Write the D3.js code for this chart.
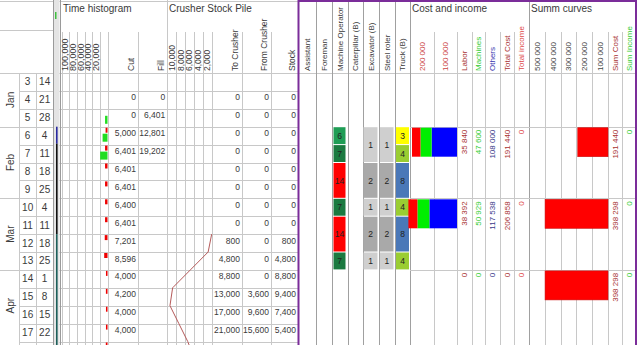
<!DOCTYPE html>
<html><head><meta charset="utf-8">
<script src="https://cdn.jsdelivr.net/npm/d3@7"></script>
<style>
html,body{margin:0;padding:0;background:#fff;}
svg{display:block;font-family:"Liberation Sans",Arial,sans-serif;}
</style></head><body>
<svg id="chart" width="640" height="345"></svg>
<script>
// ---- weekly rows ----
const weeks = [3,4,5,6,7,8,9,10,11,12,13,14,15,16,17,18];
const days  = [14,21,28,4,11,18,25,4,11,18,25,1,8,15,22,29];
const months = ["Jan","Feb","Mar","Apr"];
const monthFirstWeek = [3,6,10,14];
const monthLastWeek  = [5,9,13,17];

// ---- earth works (per week) ----
const cut         = [null,0,0,5000,6401,6401,6401,6400,6401,7201,8596,4000,4200,4000,4000,4410];
const fill        = [null,0,6401,12801,19202,null,null,null,null,null,null,null,null,null,null,null];
const toCrusher   = [null,0,0,0,0,0,0,0,0,800,4800,8800,13000,17000,21000,25410];
const fromCrusher = [null,0,0,0,0,0,0,0,0,0,0,0,3600,9600,15600,21600];
const stockPile   = [null,0,0,0,0,0,0,0,0,800,4800,8800,9400,7400,5400,3810];

const histTicks  = [100000,80000,60000,40000,20000];
const stockTicks = [10000,8000,6000,4000,2000];

// ---- resources (weeks 6..13) ----
const resourceNames = ["Assistant","Foreman","Machine Operator","Caterpillar (B)","Excavator (B)","Steel roler","Truck (B)"];
const resourceFirstWeek = 6;
const machineOperator = [6,7,14,14,7,14,14,7];
const excavator       = [1,1,2,2,1,2,2,1];
const steelRoler      = [1,1,2,2,1,2,2,1];
const truck           = [3,4,8,8,4,8,8,4];

// ---- cost and income (per month, Feb..Apr) ----
const costMonths  = ["Feb","Mar","Apr"];
const labor       = [35840,38392,0];
const machines    = [47600,50929,0];
const others      = [108000,117538,0];
const totalCost   = [191440,206858,0];
const totalIncome = [0,0,0];
const sumCost     = [191440,398298,398298];
const sumIncome   = [0,0,0];
const costTicks = [200000,100000];
const summTicks = [500000,400000,300000,200000,100000];

// ---- drawing ----
const svg = d3.select("#chart");
const GRID = "#c8c8c8", MID = "#a0a0a0", PURPLE = "#7b2d9a", TXT = "#3a3a3a";
const crisp = v => Math.round(v) + 0.5;
const H = 345;

const fmtComma = d3.format(",");
const spaceLocale = d3.formatLocale({decimal:".", thousands:" ", grouping:[3], currency:["",""]});
const fmtSpace = spaceLocale.format(",");

const y = d3.scaleLinear().domain([3, 19]).range([73, 73 + 16 * 17.9]);
const hx = d3.scaleLinear().domain([0, 120000]).range([107.5, 61.5]);
const px = d3.scaleLinear().domain([0, 10000]).range([211.7, 167.3]);
const cx = d3.scaleLinear().domain([0, 200000]).range([457, 410]);
const sx = d3.scaleLinear().domain([0, 500000]).range([608, 529]);

const gGrid = svg.append("g").attr("shape-rendering", "crispEdges");
function vline(x, y1, y2, color, w) {
  gGrid.append("line").attr("x1", crisp(x)).attr("x2", crisp(x)).attr("y1", y1).attr("y2", y2)
    .attr("stroke", color).attr("stroke-width", w || 1);
}
function hline(yy, x1, x2, color, w) {
  gGrid.append("line").attr("x1", x1).attr("x2", x2).attr("y1", crisp(yy)).attr("y2", crisp(yy))
    .attr("stroke", color).attr("stroke-width", w || 1);
}

// left table columns
const colMonth = [0, 19.3], colWeek = [19.3, 36], colDay = [36, 53.3];
const colCut = [hx(0), 138], colFill = [138, px(10000)];
const colTo = [px(0), 242], colFrom = [242, 271], colStock = [271, 298];

// horizontal grid: header top, header bottom, weekly rows
hline(1, 0, 298, GRID);
hline(29.5, 0, 53, GRID);
hline(73, 0, 636, GRID);
weeks.slice(1).concat([19]).forEach(w => hline(y(w), colWeek[0], 298, GRID));
monthFirstWeek.slice(1).forEach(w => hline(y(w), 0, colWeek[0], GRID));

// vertical grid in the left table
vline(colWeek[0], 73, H, GRID);
vline(colDay[0], 73, H, GRID);
vline(53.3, 0, H, "#9a9a9a");
d3.range(20000, 140000, 20000).forEach(v => vline(hx(v), 32, H, GRID));
vline(hx(0), 32, H, GRID);
vline(colCut[1], 32, H, GRID);
vline(px(10000), 0, H, GRID);
stockTicks.slice(1).forEach(v => vline(px(v), 32, H, GRID));
vline(px(0), 32, H, GRID);
vline(colFrom[0], 32, H, GRID);
vline(colStock[0], 32, H, GRID);

// frozen-pane separator band
svg.append("rect").attr("x", 54).attr("y", 0).attr("width", 5.5).attr("height", H).attr("fill", "#e4e4e4");
vline(59.5, 0, H, "#9a9a9a");
svg.append("rect").attr("x", 55).attr("y", 12).attr("width", 1.5).attr("height", 7).attr("fill", "#3fbf3f");
svg.append("rect").attr("x", 56).attr("y", y(6)).attr("width", 1.6).attr("height", 17).attr("fill", "#2a2aa0");
svg.append("rect").attr("x", 56).attr("y", y(6) + 17).attr("width", 1.6).attr("height", y(12) - y(6) - 17).attr("fill", "#111");
svg.append("rect").attr("x", 56).attr("y", y(12)).attr("width", 1.6).attr("height", H - y(12)).attr("fill", "#1d5f5a");

// right panel grid
const resEdges = [299, 316, 332, 348, 363, 379, 395, 410];
resEdges.slice(1).forEach(x => vline(x, 2, H, MID));
vline(cx(100000), 32, H, GRID);
vline(cx(0), 32, H, GRID);
const costEdges = [457, 472, 485, 500, 514, 529];
costEdges.slice(1, -1).forEach(x => vline(x, 32, H, GRID));
vline(529, 2, H, MID);
summTicks.slice(1).forEach(v => vline(sx(v), 32, H, GRID));
vline(sx(0), 32, H, GRID);
vline(622, 32, H, GRID);
monthFirstWeek.slice(1).forEach(w => hline(y(w), 410, 636, GRID));

// purple frame
svg.append("line").attr("x1", 298.5).attr("x2", 298.5).attr("y1", 0).attr("y2", H).attr("stroke", PURPLE).attr("stroke-width", 2);
svg.append("line").attr("x1", 298).attr("x2", 637).attr("y1", 1).attr("y2", 1).attr("stroke", PURPLE).attr("stroke-width", 2);
svg.append("line").attr("x1", 636).attr("x2", 636).attr("y1", 0).attr("y2", H).attr("stroke", PURPLE).attr("stroke-width", 2);

// ---- text helpers ----
function label(x, yy, txt, opt) {
  opt = opt || {};
  return svg.append("text").attr("x", x).attr("y", yy).text(txt)
    .attr("font-size", opt.size || 8.5).attr("fill", opt.color || TXT)
    .attr("text-anchor", opt.anchor || "start");
}
function vlabel(xc, yy, txt, opt) {
  opt = opt || {};
  return svg.append("text").attr("transform", `translate(${xc},${yy}) rotate(-90)`)
    .attr("dy", "0.35em").text(txt)
    .attr("font-size", opt.size || 8).attr("fill", opt.color || TXT)
    .attr("text-anchor", opt.anchor || "start");
}

// section titles
label(63, 12, "Time histogram", {size: 10});
label(169, 12, "Crusher Stock Pile", {size: 10});
label(412, 12, "Cost and income", {size: 10});
label(531, 12, "Summ curves", {size: 10});

// rotated column headers
const HB = 71;
histTicks.forEach(v => vlabel(hx(v + 10000), HB, fmtComma(v), {size: 9}));
vlabel((colCut[0] + colCut[1]) / 2 + 8, HB, "Cut", {size: 8.5});
vlabel((colFill[0] + colFill[1]) / 2 + 8, HB, "Fill", {size: 8.5});
stockTicks.forEach(v => vlabel(px(v - 1000), HB, fmtComma(v), {size: 8.5}));
vlabel((colTo[0] + colTo[1]) / 2 + 8, HB, "To Crusher", {size: 8.5});
vlabel((colFrom[0] + colFrom[1]) / 2 + 8, HB, "From Crusher", {size: 8.5});
vlabel((colStock[0] + colStock[1]) / 2 + 8, HB, "Stock", {size: 8.5});
resourceNames.forEach((n, i) => vlabel((resEdges[i] + resEdges[i + 1]) / 2, HB, n));
costTicks.forEach(v => vlabel(cx(v - 50000), HB, fmtSpace(v), {color: "#cc4444"}));
const costHeads = [["Labor", "#a83232"], ["Machines", "#33cc33"], ["Others", "#3838b0"], ["Total Cost", "#a83232"], ["Total income", "#e04848"]];
costHeads.forEach((h, i) => vlabel((costEdges[i] + costEdges[i + 1]) / 2, HB, h[0], {color: h[1]}));
summTicks.forEach(v => vlabel(sx(v - 50000), HB, fmtSpace(v), {color: "#444"}));
vlabel(615, HB, "Sum Cost", {color: "#a83232"});
vlabel(629, HB, "Sum Income", {color: "#33cc33"});

// month, week number and day labels (week 18 lies below the visible edge)
months.forEach((m, i) => {
  const yc = (y(monthFirstWeek[i]) + y(monthLastWeek[i] + 1)) / 2;
  vlabel(10, yc, m, {size: 10, anchor: "middle"});
});
weeks.filter(w => w <= monthLastWeek[monthLastWeek.length - 1]).forEach((w, i) => {
  const yc = (y(w) + y(w + 1)) / 2 + 3.5;
  label((colWeek[0] + colWeek[1]) / 2, yc, w, {size: 10, anchor: "middle"});
  label((colDay[0] + colDay[1]) / 2, yc, days[i], {size: 10, anchor: "middle"});
});

// time histogram bars: cut (red, upper) and fill (green, lower)
svg.append("g").selectAll("rect").data(weeks.map((w, i) => ({w, v: cut[i]})).filter(d => d.v > 0))
  .join("rect").attr("x", d => hx(d.v)).attr("width", d => hx(0) - hx(d.v))
  .attr("y", d => y(d.w) + 1).attr("height", 5).attr("fill", "#ee0000");
svg.append("g").selectAll("rect").data(weeks.map((w, i) => ({w, v: fill[i]})).filter(d => d.v > 0))
  .join("rect").attr("x", d => hx(d.v)).attr("width", d => hx(0) - hx(d.v))
  .attr("y", d => y(d.w) + 7).attr("height", 8).attr("fill", "#22dd22");

// weekly numbers
function numCol(values, right) {
  weeks.forEach((w, i) => {
    if (values[i] == null) return;
    label(right - 2, y(w) + 9.5, fmtComma(values[i]), {anchor: "end"});
  });
}
numCol(cut, colCut[1]);
numCol(fill, colFill[1]);
numCol(toCrusher, colTo[1]);
numCol(fromCrusher, colFrom[1]);
numCol(stockPile, colStock[1]);

// crusher stock pile curve (value at the bottom edge of each week)
const stockPts = weeks.map((w, i) => ({w, v: stockPile[i]})).filter(d => d.w >= 11);
svg.append("path").datum(stockPts)
  .attr("d", d3.line().x(d => px(d.v)).y(d => y(d.w + 1)))
  .attr("fill", "none").attr("stroke", "#b55a5a").attr("stroke-width", 1);

// resource blocks: consecutive equal weeks are merged
function runs(values) {
  const out = [];
  values.forEach((v, i) => {
    const w = resourceFirstWeek + i, last = out[out.length - 1];
    if (last && last.v === v) last.end = w; else out.push({v, start: w, end: w});
  });
  return out;
}
const resColors = {
  op: d3.scaleOrdinal().domain([6, 7, 14]).range(["#1f9d55", "#1b7a40", "#ff0000"]),
  ex: d3.scaleOrdinal().domain([1, 2]).range(["#cfcfcf", "#a9a9a9"]),
  tr: d3.scaleOrdinal().domain([3, 4, 8]).range(["#ffff00", "#9acd32", "#4a78b8"])
};
function resourceBlocks(values, ci, color, inset, wid) {
  const x0 = resEdges[ci] + inset, w = wid;
  const g = svg.append("g");
  runs(values).forEach(r => {
    const y0 = y(r.start) + 0.5, y1 = y(r.end + 1) - 0.5;
    g.append("rect").attr("x", x0).attr("y", y0).attr("width", w).attr("height", y1 - y0).attr("fill", color(r.v));
    g.append("text").attr("x", x0 + w / 2).attr("y", (y0 + y1) / 2 + 3.2).attr("text-anchor", "middle")
      .attr("font-size", 8.5).attr("fill", "#222").text(r.v);
  });
}
resourceBlocks(machineOperator, 2, resColors.op, 1.5, 12);
resourceBlocks(excavator, 4, resColors.ex, 0.5, 14);
resourceBlocks(steelRoler, 5, resColors.ex, 1, 13.5);
resourceBlocks(truck, 6, resColors.tr, 1, 13);

// monthly cost bars, stacked leftwards from zero: others, machines, labor
const costG = svg.append("g");
costMonths.forEach((m, i) => {
  const top = y(monthFirstWeek[months.indexOf(m)]);
  const parts = [[others[i], "#0000ff"], [machines[i], "#00ee00"], [labor[i], "#ff0000"]];
  let acc = 0;
  parts.forEach(p => {
    if (p[0] > 0) {
      costG.append("rect").attr("x", cx(acc + p[0])).attr("width", cx(acc) - cx(acc + p[0]))
        .attr("y", top + 1).attr("height", 29).attr("fill", p[1]);
    }
    acc += p[0];
  });
  if (sumCost[i] > 0) {
    costG.append("rect").attr("x", sx(sumCost[i])).attr("width", sx(0) - sx(sumCost[i]))
      .attr("y", top + 1).attr("height", 29).attr("fill", "#ff0000")
      .attr("stroke", "#cc1010").attr("stroke-width", 0.6);
  }
  const cols = [[labor, "#a83232"], [machines, "#33cc33"], [others, "#38388a"], [totalCost, "#a83232"], [totalIncome, "#e04848"]];
  cols.forEach((c, k) => vlabel((costEdges[k] + costEdges[k + 1]) / 2, top + 3, fmtSpace(c[0][i]), {color: c[1], anchor: "end"}));
  vlabel(615, top + 3, fmtSpace(sumCost[i]), {color: "#a83232", anchor: "end"});
  vlabel(629, top + 3, fmtSpace(sumIncome[i]), {color: "#33cc33", anchor: "end"});
});
</script>
</body></html>
